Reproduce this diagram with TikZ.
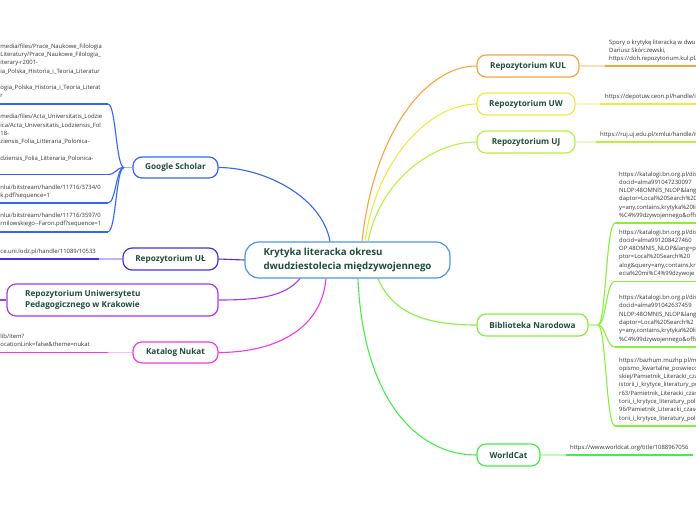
\documentclass[tikz,border=0pt]{standalone}
\usepackage{fontspec}
\setmainfont{Open Sans}
\definecolor{labelc}{HTML}{1E4D3B}
\definecolor{leafc}{HTML}{333333}
\definecolor{cCenter}{HTML}{4C95E5}
\definecolor{cKUL}{HTML}{F7A53B}
\definecolor{cUW}{HTML}{F2E845}
\definecolor{cUJ}{HTML}{B6F23F}
\definecolor{cBN}{HTML}{86EF3F}
\definecolor{cWC}{HTML}{45EE45}
\definecolor{cGS}{HTML}{3366F5}
\definecolor{cUL}{HTML}{4B2FE0}
\definecolor{cUP}{HTML}{A837F2}
\definecolor{cNK}{HTML}{F03BE3}
\begin{document}
\begin{tikzpicture}[x=1pt,y=-1pt,
  branch/.style={draw, rounded corners=9pt, line width=1.2pt, fill=white, inner sep=0pt,
    font=\fontsize{8.2}{10}\selectfont\bfseries, text=labelc, align=center},
  leaf/.style={anchor=north west, inner sep=0pt, align=left,
    font=\fontsize{5.9}{8.3}\selectfont, text=leafc},
  conn/.style={line width=1.1pt},
  uline/.style={line width=1.8pt}]
\useasboundingbox (0,0) rectangle (696,520);
\clip (0,0) rectangle (696,520);

% ---------- nodes ----------
\node[branch, draw=cCenter, rounded corners=14pt, minimum width=205pt, minimum height=36pt,
  align=left, font=\fontsize{9.7}{13.3}\selectfont\bfseries] (center) at (347.5,260)
  {Krytyka literacka okresu\\dwudziestolecia międzywojennego};

\node[branch, draw=cKUL, minimum width=102pt, minimum height=22pt] (kul) at (528,66) {Repozytorium KUL};
\node[branch, draw=cUW, minimum width=98pt, minimum height=22pt] (uw) at (526,104) {Repozytorium UW};
\node[branch, draw=cUJ, minimum width=98pt, minimum height=22pt] (uj) at (526,142) {Repozytorium UJ};
\node[branch, draw=cBN, minimum width=111pt, minimum height=22pt] (bn) at (532.5,325) {Biblioteka Narodowa};
\node[branch, draw=cWC, minimum width=63pt, minimum height=22pt] (wc) at (508.5,455) {WorldCat};

\node[branch, draw=cGS, minimum width=85pt, minimum height=21pt] (gs) at (175.5,167.5) {Google Scholar};
\node[branch, draw=cUL, minimum width=95pt, minimum height=22pt] (ul) at (170.5,259) {Repozytorium UŁ};
\node[branch, draw=cUP, minimum width=211pt, minimum height=32pt] (up) at (112.5,300) {};
\node[anchor=west, inner sep=0pt, align=left, font=\fontsize{8.2}{11.5}\selectfont\bfseries, text=labelc]
  (uptext) at (25,300) {Repozytorium Uniwersytetu\\Pedagogicznego w Krakowie};
\node[branch, draw=cNK, minimum width=85pt, minimum height=21pt] (nukat) at (175.5,352.5) {Katalog Nukat};

% ---------- leaves ----------
\node[leaf] (kulL) at (609,39.7) {Spory o krytykę literacką w dwu\\Dariusz Skórczewski,\\https://doh.repozytorium.kul.pl/};
\node[leaf] (uwL) at (605,93.9) {https://depotuw.ceon.pl/handle/it};
\node[leaf] (ujL) at (600,131.9) {https://ruj.uj.edu.pl/xmlui/handle/it};

\node[leaf] (bnL1) at (619,171.4) {https://katalogi.bn.org.pl/disc\\docid=alma991047230097\\NLOP:48OMNIS\_NLOP\&lang\\daptor=Local\%20Search\%20\\y=any,contains,krytyka\%20li\\\%C4\%99dzywojennego\&offs};
\node[leaf] (bnL2) at (619,229.4) {https://katalogi.bn.org.pl/disc\\docid=alma991208427460\\OP:48OMNIS\_NLOP\&lang=p\\ptor=Local\%20Search\%20\\alog\&query=any,contains,kr\\ecia\%20mi\%C4\%99dzywoje};
\node[leaf] (bnL3) at (619,294.9) {https://katalogi.bn.org.pl/disc\\docid=alma991042637459\\NLOP:48OMNIS\_NLOP\&lang\\daptor=Local\%20Search\%2\\y=any,contains,krytyka\%20li\\\%C4\%99dzywojennego\&offs};
\node[leaf] (bnL4) at (619,357.4) {https://bazhum.muzhp.pl/me\\opismo\_kwartalne\_poswieco\\skiej/Pamietnik\_Literacki\_cza\\istorii\_i\_krytyce\_literatury\_po\\r63/Pamietnik\_Literacki\_czaso\\torii\_i\_krytyce\_literatury\_pols\\96/Pamietnik\_Literacki\_czaso\\torii\_i\_krytyce\_literatury\_pols};
\node[leaf] (wcL) at (570,444.4) {https://www.worldcat.org/title/1088967056};

\node[leaf] (gsL1) at (0.3,43.4) {media/files/Prace\_Naukowe\_Filologia\\Literatury/Prace\_Naukowe\_Filologia\_\\iterary-r2001-\\ia\_Polska\_Historia\_i\_Teoria\_Literatur\\\mbox{}\\ogia\_Polska\_Historia\_i\_Teoria\_Literat\\r};
\node[leaf] (gsL2) at (0.3,114.1) {media/files/Acta\_Universitatis\_Lodzie\\ica/Acta\_Universitatis\_Lodziensis\_Fol\\18-\\ziensis\_Folia\_Litteraria\_Polonica-\\\mbox{}\\dziensis\_Folia\_Litteraria\_Polonica-};
\node[leaf] (gsL3) at (0.3,184.7) {nlui/bitstream/handle/11716/3734/0\\k.pdf?sequence=1};
\node[leaf] (gsL4) at (0.3,212.4) {nlui/bitstream/handle/11716/3597/0\\rnilowskiego-{}-Faron.pdf?sequence=1};
\node[leaf] (ulL) at (0.3,248.4) {ce.uni.lodz.pl/handle/11089/10533};
\node[leaf] (nkL) at (0.3,333.4) {lib/item?\\ocationLink=false\&theme=nukat};

% ---------- connectors from center ----------
\draw[conn, cGS] ([xshift=-17.5pt]center.north) .. controls +(-8,-45) and +(45,0) .. (gs.east);
\draw[conn, cKUL] ([xshift=14.5pt]center.north) .. controls +(12,-110) and +(-50,0) .. (kul.west);
\draw[conn, cUW] ([xshift=17.5pt]center.north) .. controls +(12,-85) and +(-45,0) .. (uw.west);
\draw[conn, cUJ] ([xshift=20.5pt]center.north) .. controls +(12,-60) and +(-45,0) .. (uj.west);
\draw[conn, cBN] ([xshift=30.5pt]center.south) .. controls +(15,35) and +(-50,0) .. (bn.west);
\draw[conn, cWC] ([xshift=10.5pt]center.south) .. controls +(5,120) and +(-60,0) .. (wc.west);
\draw[conn, cNK] ([xshift=-21.5pt]center.south) .. controls +(-5,55) and +(50,0) .. (nukat.east);
\draw[conn, cUP] ([xshift=-47.5pt]center.south) .. controls +(-15,18) and +(40,0) .. (up.east);
\draw[conn, cUL] (center.west) -- (ul.east);

% ---------- right leaf connectors ----------
\draw[conn, cKUL!35] (kul.east) -- (605,66) coordinate (kulU);
\draw[uline, cKUL] (kulU) -- (700,66);
\draw[conn, cUW!35] (uw.east) -- (600,104) coordinate (uwU);
\draw[uline, cUW] (uwU) -- (700,104);
\draw[conn, cUJ!35] (uj.east) -- (596,142) coordinate (ujU);
\draw[uline, cUJ] (ujU) -- (700,142);
\draw[conn, cWC!35] (wc.east) -- (566,455) coordinate (wcU);
\draw[uline, cWC] (wcU) -- (693,455);

\draw[conn, cBN!50] (bn.east) -- (598,325) coordinate (bnJ);
\foreach \yy/\nm in {223/bnU1, 281.5/bnU2, 347/bnU3, 426/bnU4}{
  \draw[conn, cBN] (bnJ) .. controls (606,325) and (606,\yy) .. (615,\yy) coordinate (\nm);
  \draw[uline, cBN] (\nm) -- (700,\yy);
}

% ---------- left leaf connectors ----------
\draw[conn, cGS!50] (gs.west) -- (124,167.5) coordinate (gsJ);
\foreach \yy/\nm in {104/gsU1, 174.5/gsU2, 203/gsU3, 231.7/gsU4}{
  \draw[conn, cGS] (gsJ) .. controls (116,167.5) and (116,\yy) .. (108,\yy) coordinate (\nm);
  \draw[uline, cGS] (\nm) -- (-5,\yy);
}
\draw[conn, cUL!35] (ul.west) -- (99,259) coordinate (ulU);
\draw[uline, cUL] (ulU) -- (-5,259);
\draw[conn, cNK!35] (nukat.west) -- (108,352.5) coordinate (nkU);
\draw[uline, cNK] (nkU) -- (-5,352.5);
\draw[conn, cUP] (up.west) -- (-5,300);
\end{tikzpicture}
\end{document}
